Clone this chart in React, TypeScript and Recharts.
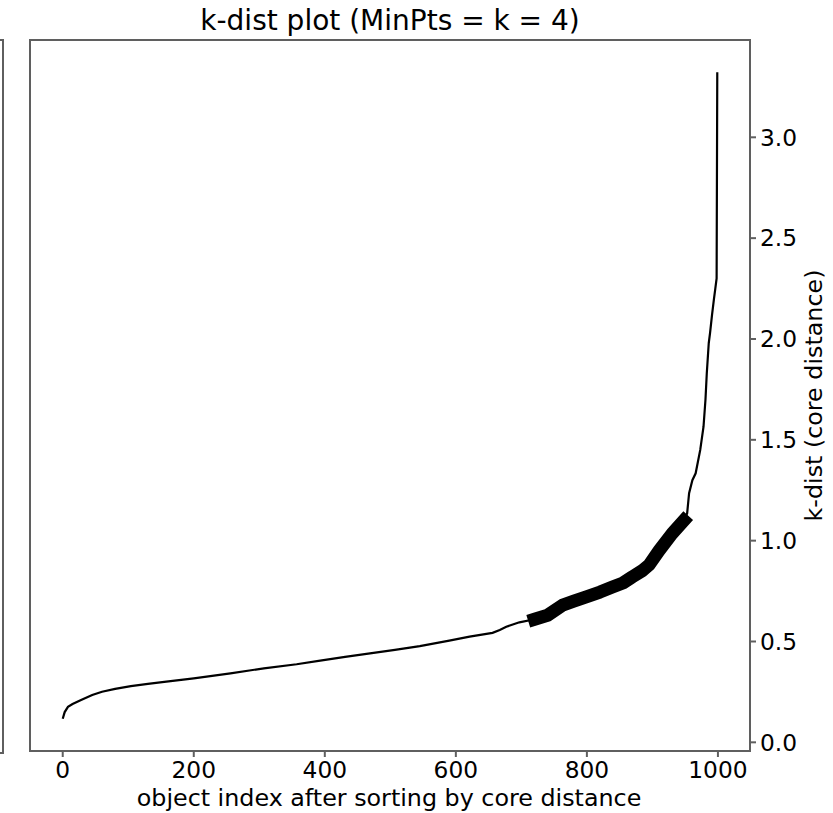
import React from 'react';
import { LineChart, Line, XAxis, YAxis, ReferenceArea } from 'recharts';

// object index (after sorting) and its core distance
const pointIndex = [
  0, 3, 8, 15, 28, 45, 60, 80, 104, 130, 155, 200, 256, 307, 357, 393, 431,
  469, 507, 545, 590, 621, 656, 667, 677, 697, 720, 740, 763, 780, 798, 820,
  839, 855, 869, 884, 895, 910, 930, 948, 953, 956, 961, 966, 973, 978, 981,
  983, 986, 988, 991, 994, 996, 998, 999,
];
const coreDist = [
  0.117, 0.15, 0.176, 0.19, 0.21, 0.235, 0.251, 0.265, 0.279, 0.29, 0.3, 0.317,
  0.342, 0.367, 0.387, 0.405, 0.424, 0.441, 0.458, 0.477, 0.504, 0.524, 0.543,
  0.557, 0.573, 0.595, 0.61, 0.63, 0.68, 0.7, 0.72, 0.745, 0.77, 0.79, 0.82,
  0.85, 0.88, 0.95, 1.035, 1.1, 1.135, 1.235, 1.3, 1.334, 1.45, 1.565, 1.7,
  1.83, 1.98, 2.03, 2.12, 2.2, 2.25, 2.3, 3.322,
];

// highlighted stretch of the curve (drawn thick)
const highlightFrom = 720;
const highlightTo = 948;

const xTicks = [0, 200, 400, 600, 800, 1000];
const yTicks = [0, 0.5, 1, 1.5, 2, 2.5, 3];

const FONT = '"DejaVu Sans", sans-serif';
const FRAME = '#5f5f5f';

const data = pointIndex.map((x, i) => ({ x, y: coreDist[i] }));
const highlight = data.filter(d => d.x >= highlightFrom && d.x <= highlightTo);

export default function App() {
  return (
    <div style={{ position: 'absolute', left: 0, top: 0, width: 833, height: 813, background: '#fff', fontFamily: FONT }}>
      {/* edge of the neighbouring subplot, cut off by the frame */}
      <div style={{ position: 'absolute', left: -20, top: 39, width: 22, height: 711, border: `2px solid ${FRAME}`, borderLeft: 'none' }} />
      <div style={{ position: 'absolute', left: 0, top: 7, width: 780, textAlign: 'center', fontSize: 28, lineHeight: '28px', color: '#000' }}>
        k-dist plot (MinPts = k = 4)
      </div>
      <LineChart width={833} height={813} margin={{ top: 40, right: 0, bottom: 0, left: 30 }}>
        <XAxis
          dataKey="x"
          type="number"
          domain={[-49.95, 1048.95]}
          ticks={xTicks}
          allowDataOverflow
          height={62}
          axisLine={false}
          tickSize={6}
          tickMargin={4}
          tickLine={{ stroke: FRAME, strokeWidth: 2 }}
          tick={{ fontSize: 23.3, fill: '#000', fontFamily: FONT }}
          label={() => (
            <text x={389} y={806} textAnchor="middle" fontSize={23.8} fontFamily={FONT} fill="#000">
              object index after sorting by core distance
            </text>
          )}
        />
        <YAxis
          dataKey="y"
          type="number"
          orientation="right"
          domain={[-0.043, 3.4825]}
          ticks={yTicks}
          allowDataOverflow
          width={83}
          axisLine={false}
          tickSize={6}
          tickMargin={4}
          tickLine={{ stroke: FRAME, strokeWidth: 2 }}
          tick={{ fontSize: 23.3, fill: '#000', fontFamily: FONT }}
          tickFormatter={(v: number) => v.toFixed(1)}
          label={() => (
            <text
              x={822}
              y={395.5}
              textAnchor="middle"
              fontSize={23.8}
              fontFamily={FONT}
              fill="#000"
              transform="rotate(-90 822 395.5)"
            >
              k-dist (core distance)
            </text>
          )}
        />
        <ReferenceArea
          x1={-49.95}
          x2={1048.95}
          y1={-0.043}
          y2={3.4825}
          fill="none"
          stroke={FRAME}
          strokeWidth={2}
          ifOverflow="visible"
        />
        <Line
          data={data}
          dataKey="y"
          type="linear"
          stroke="#000"
          strokeWidth={2.2}
          dot={false}
          activeDot={false}
          isAnimationActive={false}
        />
        <Line
          data={highlight}
          dataKey="y"
          type="linear"
          stroke="#000"
          strokeWidth={13}
          strokeLinecap="square"
          strokeLinejoin="round"
          dot={false}
          activeDot={false}
          isAnimationActive={false}
        />
      </LineChart>
    </div>
  );
}
